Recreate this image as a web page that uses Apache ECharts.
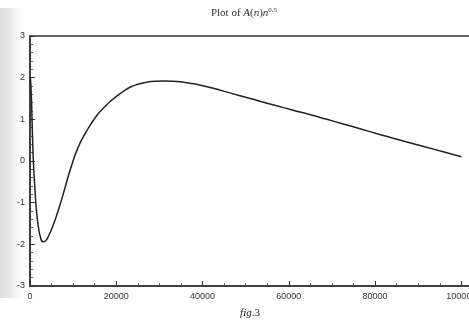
<!DOCTYPE html>
<html><head><meta charset="utf-8">
<script src="https://cdn.jsdelivr.net/npm/echarts@6/dist/echarts.min.js"></script>
<style>html,body{margin:0;padding:0;background:#fff}#c{width:469px;height:322px}</style>
</head><body><div id="c"></div>
<script>
var nValues = [100, 300, 550, 800, 1100, 1500, 1900, 2400, 3000, 3600, 4300, 5000, 6000, 7000, 8100, 9600, 11200, 12800, 15400, 17500, 19300, 21500, 23200, 25000, 27000, 29000, 30900, 33000, 34800, 36700, 38600, 42500, 46300, 50200, 53300, 57000, 61000, 65000, 68800, 72600, 76500, 80300, 84200, 88000, 91900, 96000, 100000];
var yValues = [2.0, 1.6, 0.7, -0.05, -0.6, -1.2, -1.55, -1.82, -1.94, -1.92, -1.80, -1.64, -1.36, -1.04, -0.65, -0.12, 0.34, 0.66, 1.08, 1.32, 1.49, 1.66, 1.77, 1.84, 1.89, 1.915, 1.92, 1.915, 1.90, 1.87, 1.84, 1.745, 1.635, 1.525, 1.435, 1.33, 1.22, 1.11, 1.00, 0.89, 0.775, 0.66, 0.545, 0.44, 0.33, 0.215, 0.10];
var xTickLabels = [0, 20000, 40000, 60000, 80000, 100000];
var yTickLabels = [-3, -2, -1, 0, 1, 2, 3];

var data = nValues.map(function (n, i) { return [n, yValues[i]]; });
var chart = echarts.init(document.getElementById('c'), null, {renderer: 'canvas'});
var labelFont = {fontFamily: 'Liberation Sans', fontSize: 9, color: '#333'};
chart.setOption({
  animation: false,
  backgroundColor: '#fff',
  graphic: [
    {type: 'rect', z: -10, shape: {x: 0, y: 8, width: 28, height: 290},
      style: {fill: new echarts.graphic.LinearGradient(0, 0, 1, 0, [
        {offset: 0, color: '#dddddd'}, {offset: 0.35, color: '#e8e8e8'}, {offset: 1, color: 'rgba(255,255,255,0)'}])}},
    {type: 'text', x: 244, y: 13, style: {
      text: 'Plot of {i|A}({i|n}){i|n}{s|0.5}',
      align: 'center', verticalAlign: 'middle',
      fontFamily: 'Liberation Serif', fontSize: 11, fill: '#333',
      rich: {
        i: {fontFamily: 'Liberation Serif', fontStyle: 'italic', fontSize: 11, color: '#333'},
        s: {fontFamily: 'Liberation Serif', fontSize: 7, color: '#333', verticalAlign: 'top', padding: [0, 0, 6, 0]}
      }}}
  ],
  grid: {left: 30, right: -1, top: 36, bottom: 36, outerBoundsMode: 'none', containLabel: false,
    show: true, borderColor: '#333', borderWidth: 1.5, backgroundColor: 'transparent'},
  xAxis: {
    type: 'value', min: 0, max: 102000, interval: 20000,
    name: '{i|fig}.3', nameLocation: 'middle', nameGap: 22,
    nameTextStyle: {fontFamily: 'Liberation Serif', fontSize: 11, color: '#222',
      rich: {i: {fontFamily: 'Liberation Serif', fontStyle: 'italic', fontSize: 11, color: '#222'}}},
    axisLine: {show: true, onZero: false, lineStyle: {color: '#333', width: 1.5}},
    axisTick: {show: true, inside: true, length: 5, lineStyle: {color: '#333'}},
    minorTick: {show: true, splitNumber: 4, length: 3, lineStyle: {color: '#555'}},
    splitLine: {show: false},
    axisLabel: Object.assign({margin: 6, hideOverlap: false, formatter: function (v) { return xTickLabels.indexOf(v) >= 0 ? String(v) : ''; }}, labelFont)
  },
  yAxis: {
    type: 'value', min: -3, max: 3, interval: 1,
    axisLine: {show: true, onZero: false, lineStyle: {color: '#333', width: 1.5}},
    axisTick: {show: true, inside: true, length: 5, lineStyle: {color: '#333'}},
    minorTick: {show: true, splitNumber: 5, length: 3, lineStyle: {color: '#555'}},
    splitLine: {show: false},
    axisLabel: Object.assign({margin: 5, formatter: function (v) { return yTickLabels.indexOf(v) >= 0 ? String(v) : ''; }}, labelFont)
  },
  series: [{
    type: 'line', data: data, showSymbol: false, smooth: 0.5,
    lineStyle: {color: '#222', width: 1.5}
  }]
});
</script></body></html>
